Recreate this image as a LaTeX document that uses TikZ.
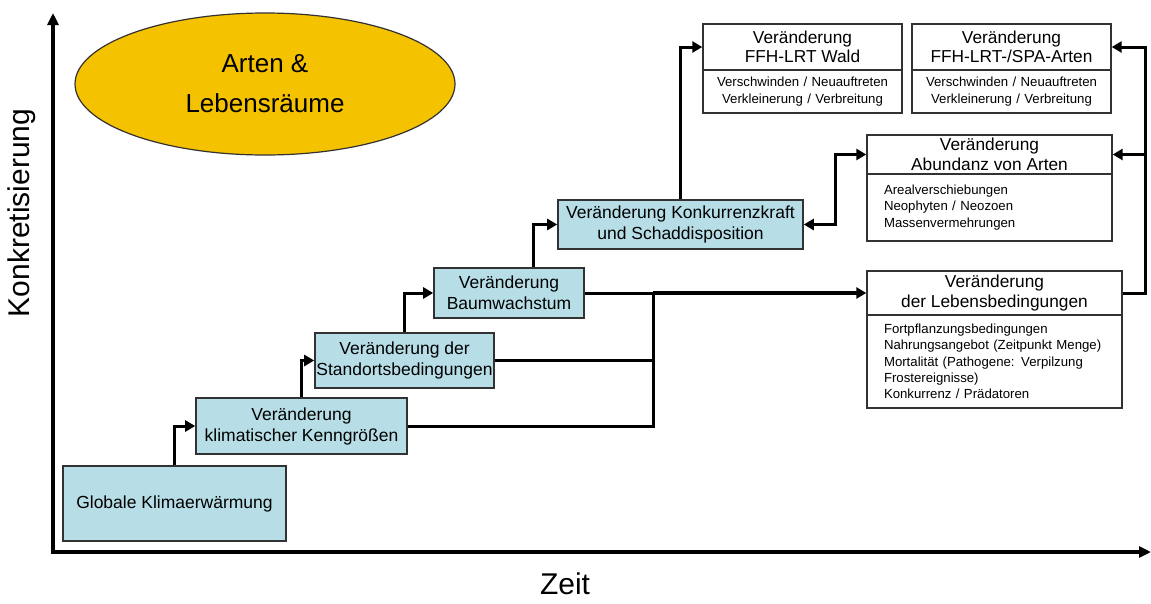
\documentclass[tikz,border=0pt]{standalone}
\usepackage{fontspec}
\setmainfont{Liberation Sans}
\usetikzlibrary{arrows.meta,shapes.geometric}
\definecolor{boxblue}{RGB}{183,222,230}
\definecolor{gold}{RGB}{245,194,0}
\definecolor{edge}{RGB}{50,50,50}
\begin{document}
\begin{tikzpicture}[x=1pt,y=-1pt,
  stepbox/.style={draw=edge, fill=boxblue, line width=1.6pt, inner sep=0pt, align=center, font=\fontsize{17.5}{21}\selectfont},
  headbox/.style={draw=edge, fill=white, line width=1.4pt, inner sep=0pt, align=center, font=\fontsize{17.3}{19.5}\selectfont},
  listbox/.style={draw=edge, fill=white, line width=1.4pt, inner ysep=0pt, align=left, font=\fontsize{13.2}{16.3}\selectfont},
  conn/.style={line width=3pt, -{Triangle[length=10pt,width=11pt]}},
  link/.style={line width=3pt},
  axis/.style={line width=3.4pt, {Triangle[length=12pt,width=11pt]}-{Triangle[length=12pt,width=11pt]}},
  biglabel/.style={font=\fontsize{30}{30}\selectfont},
]
\useasboundingbox (0,0) rectangle (1151,603);

% axes
\coordinate (ytop) at (53,13);
\coordinate (o) at (53,552);
\coordinate (xend) at (1151,552);
\draw[axis] (ytop) -- (o) -- (xend);
\node[biglabel, rotate=90] (ylab) at (22,213) {Konkretisierung};
\node[biglabel] (xlab) at (565,584) {Zeit};

% ellipse
\node[ellipse, draw=edge, fill=gold, line width=1.2pt, minimum width=380pt, minimum height=142pt, inner sep=0pt,
      align=center, font=\fontsize{26}{40}\selectfont] (ell) at (265,84) {Arten \&\\Lebensräume};

% steps
\node[stepbox, minimum width=223pt, minimum height=75pt] (glob) at (174.5,503.5) {Globale Klimaerwärmung};
\node[stepbox, minimum width=211pt, minimum height=56pt] (klim) at (301.5,426) {Veränderung\\klimatischer Kenngrößen};
\node[stepbox, minimum width=179pt, minimum height=55pt] (stand) at (404.5,360.5) {Veränderung der\\Standortsbedingungen};
\node[stepbox, minimum width=150pt, minimum height=50pt] (baum) at (509,293) {Veränderung\\Baumwachstum};
\node[stepbox, minimum width=245pt, minimum height=49pt] (konk) at (680.5,224.5) {Veränderung Konkurrenzkraft\\und Schaddisposition};

% result boxes
\node[headbox, minimum width=199pt, minimum height=46pt] (waldh) at (802.5,47) {Veränderung\\FFH-LRT Wald};
\node[listbox, align=center, inner xsep=0pt, text width=199pt, minimum height=43pt] (waldb) at (802.5,91.5) {Verschwinden / Neuauftreten\\Verkleinerung / Verbreitung};
\node[headbox, minimum width=199pt, minimum height=46pt] (spah) at (1011.5,47) {Veränderung\\FFH-LRT-/SPA-Arten};
\node[listbox, align=center, inner xsep=0pt, text width=199pt, minimum height=43pt] (spab) at (1011.5,91.5) {Verschwinden / Neuauftreten\\Verkleinerung / Verbreitung};

\node[headbox, minimum width=245pt, minimum height=39pt] (abundh) at (989.5,154.5) {Veränderung\\Abundanz von Arten};
\node[listbox, inner xsep=17pt, text width=211pt, minimum height=67pt] (abundb) at (989.5,207.5) {Arealverschiebungen\\Neophyten / Neozoen\\Massenvermehrungen};

\node[headbox, minimum width=255pt, minimum height=44pt] (lebenh) at (994.5,293) {Veränderung\\der Lebensbedingungen};
\node[listbox, inner xsep=17pt, text width=221pt, minimum height=93pt] (lebenb) at (994.5,361.5) {Fortpflanzungsbedingungen\\Nahrungsangebot (Zeitpunkt Menge)\\Mortalität (Pathogene: Verpilzung\\Frostereignisse)\\Konkurrenz / Prädatoren};

% connectors
\draw[conn] (glob.north) |- (klim.west);
\draw[conn] (klim.north) |- (stand.west);
\draw[conn] (stand.north) |- (baum.west);
\draw[conn] ([xshift=24pt]baum.north) |- (konk.west);
\draw[conn] (konk.north) |- (waldh.west);
\coordinate (j) at (653,293);
\draw[link] (baum.east) -- (j);
\draw[conn, line width=3.6pt] (j) -- (lebenh.west);
\draw[link] (stand.east) -- (stand.east -| j);
\draw[link] (klim.east) -| (j);
\coordinate (rx) at (1145,0);
\draw[conn] (lebenh.east) -- (lebenh.east -| rx) |- (spah.east);
\draw[conn] (abundh.east -| rx) -- (abundh.east);
\coordinate (kx) at (835,0);
\draw[link, {Triangle[length=10pt,width=11pt]}-{Triangle[length=10pt,width=11pt]}] (konk.east) -- (konk.east -| kx) |- (abundh.west);
\end{tikzpicture}
\end{document}
